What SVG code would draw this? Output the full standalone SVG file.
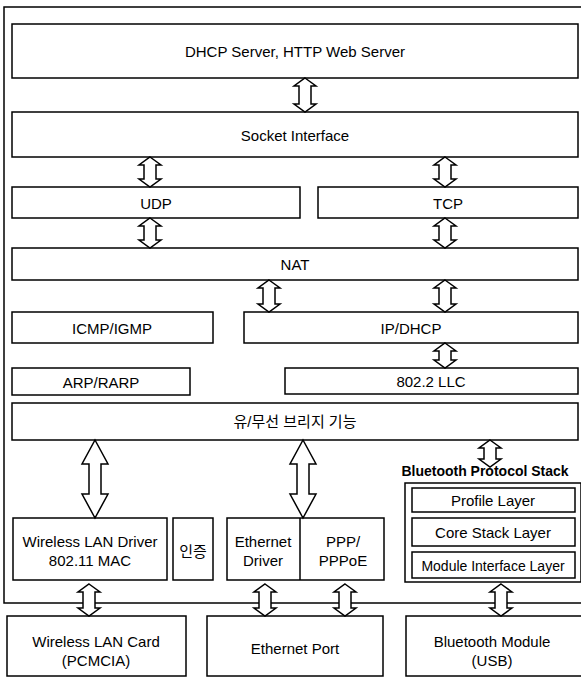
<svg xmlns="http://www.w3.org/2000/svg" width="581" height="677" viewBox="0 0 581 677">
<style>
.b{fill:#fff;stroke:#000;stroke-width:1.5}
.f{fill:none;stroke:#000;stroke-width:1.5}
.t{font-family:"Liberation Sans",Arial,sans-serif;font-size:15px;fill:#000;text-anchor:middle;dominant-baseline:central}
.k{font-family:"Liberation Sans","Noto Sans CJK KR",sans-serif;font-size:15px;fill:#000;text-anchor:middle;dominant-baseline:central}
.bold{font-weight:bold;font-size:14px}
.s{font-size:14px}
.a{fill:#fff;stroke:#000;stroke-width:1.5;stroke-linejoin:miter}
</style>
<rect x="0" y="0" width="581" height="677" fill="#fff"/>
<rect id="frame" class="f" x="4" y="7" width="600" height="596"/>
<g id="dhcp"><rect class="b" x="12" y="24" width="566" height="54"/><text class="t" x="295" y="51">DHCP Server, HTTP Web Server</text></g>
<g id="socket"><rect class="b" x="12" y="112" width="566" height="45"/><text class="t" x="295" y="135">Socket Interface</text></g>
<g id="udp"><rect class="b" x="12" y="187" width="288" height="31"/><text class="t" x="156" y="203">UDP</text></g>
<g id="tcp"><rect class="b" x="318" y="187" width="260" height="31"/><text class="t" x="448" y="203">TCP</text></g>
<g id="nat"><rect class="b" x="12" y="248" width="566" height="32"/><text class="t" x="295" y="264">NAT</text></g>
<g id="icmp"><rect class="b" x="12" y="312" width="201" height="31"/><text class="t" x="112" y="328">ICMP/IGMP</text></g>
<g id="ip"><rect class="b" x="244" y="312" width="334" height="31"/><text class="t" x="411" y="328">IP/DHCP</text></g>
<g id="arp"><rect class="b" x="12" y="368" width="178" height="27"/><text class="t" x="101" y="382">ARP/RARP</text></g>
<g id="llc"><rect class="b" x="285" y="368" width="293" height="26"/><text class="t" x="431" y="381">802.2 LLC</text></g>
<g id="bridge"><rect class="b" x="12" y="403" width="566" height="37"/><text class="k" x="295" y="421">유/무선 브리지 기능</text></g>
<g id="bt-stack">
<text class="t bold" x="485" y="471">Bluetooth Protocol Stack</text>
<rect class="b" x="405" y="483" width="176" height="99"/>
<rect class="b" x="412" y="488" width="163" height="24"/><text class="t" x="493" y="500">Profile Layer</text>
<rect class="b" x="412" y="518" width="163" height="28"/><text class="t" x="493" y="532">Core Stack Layer</text>
<rect class="b" x="412" y="552" width="163" height="26"/><text class="t s" x="493" y="566">Module Interface Layer</text>
</g>
<g id="wlan-driver"><rect class="b" x="13" y="518" width="154" height="62"/><text class="t" x="90" y="541">Wireless LAN Driver</text><text class="t" x="90" y="560">802.11 MAC</text></g>
<g id="auth"><rect class="b" x="173" y="518" width="40" height="62"/><text class="k" x="193" y="551">인증</text></g>
<g id="eth-driver"><rect class="b" x="227" y="518" width="157" height="62"/><line class="f" x1="300" y1="518" x2="300" y2="580"/><text class="t" x="263" y="541">Ethernet</text><text class="t" x="263" y="560">Driver</text><text class="t" x="343" y="541">PPP/</text><text class="t" x="343" y="560">PPPoE</text></g>
<g id="wlan-card"><rect class="b" x="7" y="616" width="179" height="60"/><text class="t" x="96" y="641">Wireless LAN Card</text><text class="t" x="96" y="660">(PCMCIA)</text></g>
<g id="eth-port"><rect class="b" x="207" y="616" width="176" height="60"/><text class="t" x="295" y="648">Ethernet Port</text></g>
<g id="bt-module"><rect class="b" x="406" y="616" width="180" height="60"/><text class="t" x="492" y="641">Bluetooth Module</text><text class="t" x="492" y="660">(USB)</text></g>
<g id="connectors">
<polygon class="a" points="305,78 316,86 311,86 311,104 316,104 305,112 294,104 299,104 299,86 294,86"/>
<polygon class="a" points="150,157 161,165 156,165 156,179 161,179 150,187 139,179 144,179 144,165 139,165"/>
<polygon class="a" points="445,157 456,165 451,165 451,179 456,179 445,187 434,179 439,179 439,165 434,165"/>
<polygon class="a" points="150,218 161,226 156,226 156,240 161,240 150,248 139,240 144,240 144,226 139,226"/>
<polygon class="a" points="445,218 456,226 451,226 451,240 456,240 445,248 434,240 439,240 439,226 434,226"/>
<polygon class="a" points="269,280 280,288 275,288 275,304 280,304 269,312 258,304 263,304 263,288 258,288"/>
<polygon class="a" points="445,280 456,288 451,288 451,304 456,304 445,312 434,304 439,304 439,288 434,288"/>
<polygon class="a" points="445,343 456,351 451,351 451,360 456,360 445,368 434,360 439,360 439,351 434,351"/>
<polygon class="a" points="95,440 108,464 101,464 101,494 108,494 95,518 82,494 89,494 89,464 82,464"/>
<polygon class="a" points="303,440 316,464 309,464 309,494 316,494 303,518 290,494 297,494 297,464 290,464"/>
<polygon class="a" points="490,440 501,448 496,448 496,459 501,459 490,467 479,459 484,459 484,448 479,448"/>
<polygon class="a" points="89,584 100,592 95,592 95,608 100,608 89,616 78,608 83,608 83,592 78,592"/>
<polygon class="a" points="265,584 276,592 271,592 271,608 276,608 265,616 254,608 259,608 259,592 254,592"/>
<polygon class="a" points="345,584 356,592 351,592 351,608 356,608 345,616 334,608 339,608 339,592 334,592"/>
<polygon class="a" points="501,584 512,592 507,592 507,608 512,608 501,616 490,608 495,608 495,592 490,592"/>
</g>
</svg>
